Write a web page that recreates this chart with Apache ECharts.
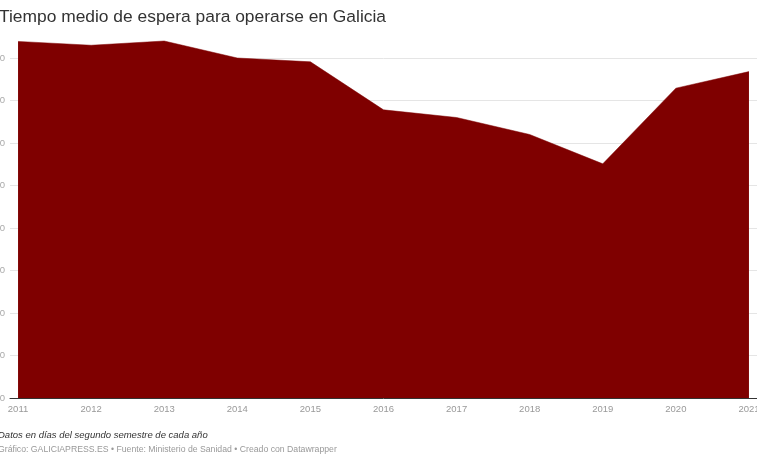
<!DOCTYPE html>
<html><head><meta charset="utf-8">
<script src="https://cdn.jsdelivr.net/npm/echarts@6/dist/echarts.min.js"></script>
<style>html,body{margin:0;padding:0;background:#fff}#c{width:757px;height:463px}</style>
</head><body><div id="c"></div>
<script>
const years = [2011,2012,2013,2014,2015,2016,2017,2018,2019,2020,2021];
const days = [83.9,83.0,84.0,80.0,79.1,67.8,66.0,62.0,55.1,72.9,76.8];
const yTicks = [0,10,20,30,40,50,60,70,80];
const title = 'Tiempo medio de espera para operarse en Galicia';
const note = 'Datos en días del segundo semestre de cada año';
const source = 'Gráfico: GALICIAPRESS.ES • Fuente: Ministerio de Sanidad • Creado con Datawrapper';

const chart = echarts.init(document.getElementById('c'), null, {renderer:'canvas'});
const F = '"Liberation Sans", Arial, sans-serif';
chart.setOption({
  animation:false,
  textStyle:{fontFamily:F},
  title:[
    {text:title,left:-1,top:9,padding:0,textStyle:{fontFamily:F,fontSize:17.4,fontWeight:'normal',color:'#333'}},
    {text:note,left:-2,top:430,padding:0,textStyle:{fontFamily:F,fontSize:9.5,fontStyle:'italic',fontWeight:'normal',color:'#333'}},
    {text:source,left:-2,top:445,padding:0,textStyle:{fontFamily:F,fontSize:8.7,fontWeight:'normal',color:'#999'}}
  ],
  grid:{left:10,right:0,top:58,bottom:65,containLabel:false,outerBoundsMode:'none'},
  xAxis:{type:'value',min:2010.89,max:2021.11,
    axisLine:{show:true,lineStyle:{color:'#333',width:1}},
    axisTick:{show:false},splitLine:{show:false},
    axisLabel:{customValues:years,color:'#999',fontSize:9.5,margin:6,formatter:v=>String(Math.round(v))}},
  yAxis:{type:'value',min:yTicks[0],max:yTicks[yTicks.length-1],interval:10,
    axisLine:{show:false},axisTick:{show:false},
    splitLine:{lineStyle:{color:'#e5e5e5',width:1}},
    axisLabel:{color:'#aaa',fontSize:9.5,margin:5}},
  series:[{type:'line',data:years.map((y,i)=>[y,days[i]]),showSymbol:false,clip:false,
    lineStyle:{color:'#7f0000',width:0.5},areaStyle:{color:'#7f0000',opacity:1},z:3}]
});
</script></body></html>
